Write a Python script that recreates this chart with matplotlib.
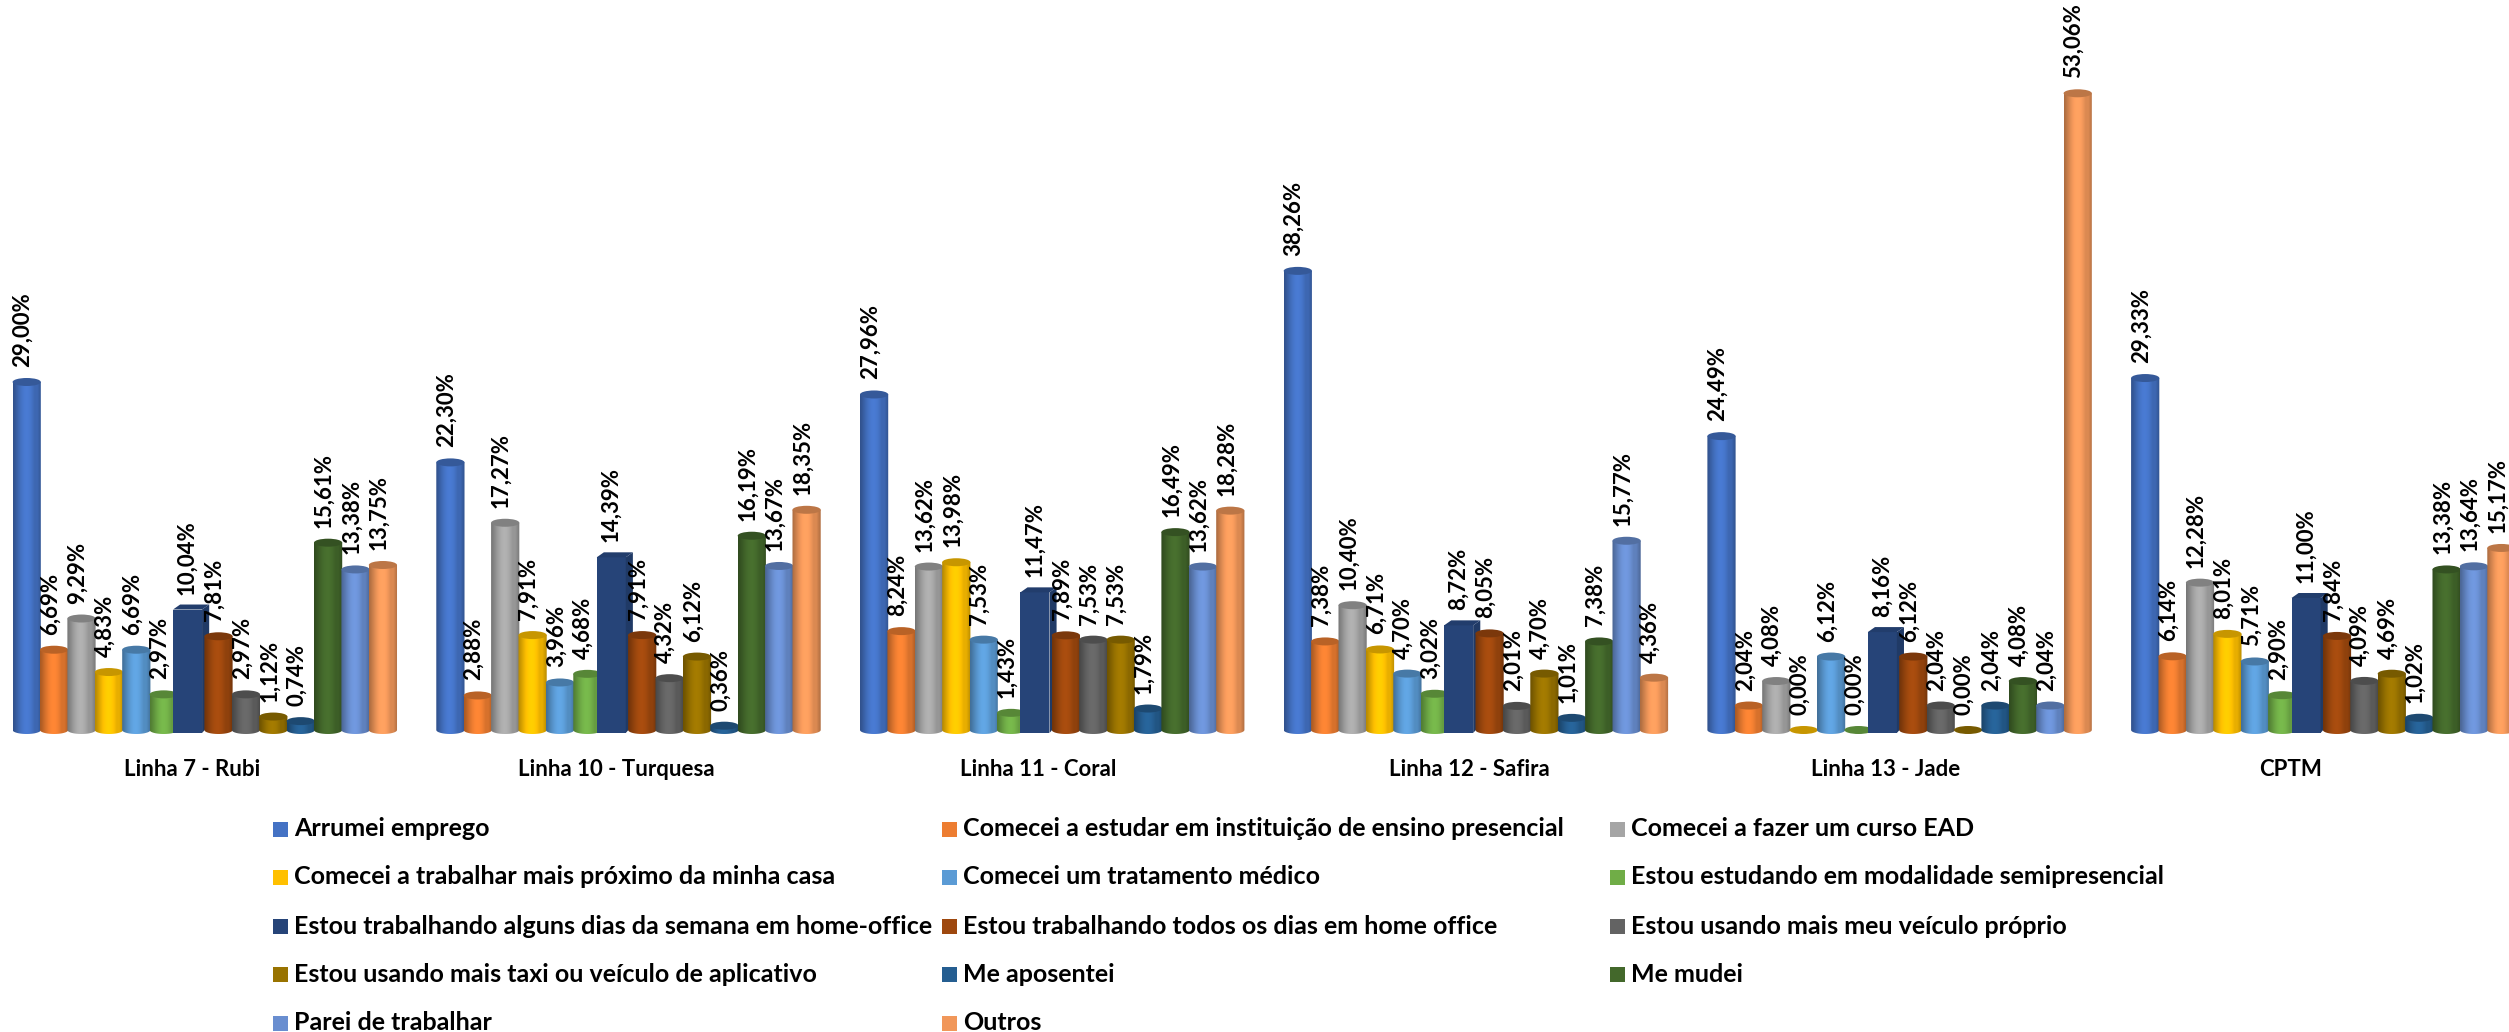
#!/usr/bin/env python3
"""Grouped pseudo-3D column chart: reasons for changing travel habits, per CPTM line."""

import matplotlib
matplotlib.use("Agg")
import matplotlib.pyplot as plt
from matplotlib.colors import to_rgb
from matplotlib.patches import Ellipse, PathPatch, Polygon, Rectangle
from matplotlib.path import Path
import numpy as np

W, H = 2509, 1032

LINES = ["Linha 7 - Rubi", "Linha 10 - Turquesa", "Linha 11 - Coral",
         "Linha 12 - Safira", "Linha 13 - Jade", "CPTM"]

REASONS = [
    "Arrumei emprego",
    "Comecei a estudar em instituição de ensino presencial",
    "Comecei a fazer um curso EAD",
    "Comecei a trabalhar mais próximo da minha casa",
    "Comecei um tratamento médico",
    "Estou estudando em modalidade semipresencial",
    "Estou trabalhando alguns dias da semana em home-office",
    "Estou trabalhando todos os dias em home office",
    "Estou usando mais meu veículo próprio",
    "Estou usando mais taxi ou veículo de aplicativo",
    "Me aposentei",
    "Me mudei",
    "Parei de trabalhar",
    "Outros",
]

COLORS = ["#4472C4", "#ED7D31", "#A5A5A5", "#FFC000", "#5B9BD5", "#70AD47", "#264478",
          "#9E480E", "#636363", "#997300", "#255E91", "#43682B", "#698ED0", "#F1975A"]

LINHA_7 = [29.00, 6.69, 9.29, 4.83, 6.69, 2.97, 10.04, 7.81, 2.97, 1.12, 0.74, 15.61, 13.38, 13.75]
LINHA_10 = [22.30, 2.88, 17.27, 7.91, 3.96, 4.68, 14.39, 7.91, 4.32, 6.12, 0.36, 16.19, 13.67, 18.35]
LINHA_11 = [27.96, 8.24, 13.62, 13.98, 7.53, 1.43, 11.47, 7.89, 7.53, 7.53, 1.79, 16.49, 13.62, 18.28]
LINHA_12 = [38.26, 7.38, 10.40, 6.71, 4.70, 3.02, 8.72, 8.05, 2.01, 4.70, 1.01, 7.38, 15.77, 4.36]
LINHA_13 = [24.49, 2.04, 4.08, 0.00, 6.12, 0.00, 8.16, 6.12, 2.04, 0.00, 2.04, 4.08, 2.04, 53.06]
CPTM = [29.33, 6.14, 12.28, 8.01, 5.71, 2.90, 11.00, 7.84, 4.09, 4.69, 1.02, 13.38, 13.64, 15.17]
VALUES = [LINHA_7, LINHA_10, LINHA_11, LINHA_12, LINHA_13, CPTM]

BOX_SERIES = 6  # this series is drawn as a box, the rest as cylinders

BASELINE_PX = 730
AXES_BOTTOM_PX = 745
PX_PER_UNIT = 12.0
BAR_PITCH_PX = 27.4
GROUP_STEP = 423.7 / BAR_PITCH_PX
FIRST_BAR_PX = 26.7
BAR_WIDTH = 1.03
CAP_H = 8 / PX_PER_UNIT

FONT = ["Lato", "DejaVu Sans"]
LABEL_X_PX = [192, 616, 1038, 1469, 1886, 2291]
LEGEND_COLS_PX = [273, 942, 1610]
LEGEND_ROWS_PX = [829, 877, 926, 974, 1023]


def shaded(color, factors):
    """Return a 1xN RGB strip of a colour scaled by the given factors."""
    rgb = np.array(to_rgb(color))
    return np.clip(rgb[None, :] * factors[:, None], 0, 1)[None, :, :]


def draw_cylinder(ax, x, value, color, z):
    left, right = x - BAR_WIDTH / 2, x + BAR_WIDTH / 2
    if value > 0:
        t = np.linspace(np.pi, 2 * np.pi, 24)
        low_x = x + BAR_WIDTH / 2 * np.cos(t)
        low_y = CAP_H / 2 * np.sin(t)
        outline = np.vstack([np.column_stack([low_x, low_y]), [right, value], [left, value]])
        clip = PathPatch(Path(np.vstack([outline, outline[:1]]), closed=True),
                         transform=ax.transData, fc="none", ec="none")
        ax.add_patch(clip)
        u = np.linspace(0, 1, 40)
        factors = 0.72 + 0.36 * np.sin(np.clip(u / 0.75, 0, 1) * np.pi / 1.25) ** 1.2
        factors = np.where(u > 0.85, factors - (u - 0.85) * 1.2, factors)
        im = ax.imshow(shaded(color, factors), extent=(left, right, -CAP_H / 2, value),
                       aspect="auto", interpolation="bilinear", zorder=z)
        im.set_clip_path(clip)
    ax.add_patch(Ellipse((x, value), BAR_WIDTH, CAP_H, angle=0,
                         fc=tuple(np.array(to_rgb(color)) * 0.78), ec="none", zorder=z + 0.1))


def draw_box(ax, x, value, color, z):
    rgb = np.array(to_rgb(color))
    left, front, back = x - 0.66, x + 0.40, x + 0.66
    rise = 5 / PX_PER_UNIT
    drop = 3 / PX_PER_UNIT
    ax.add_patch(Polygon([(left, -drop), (front, -drop), (front, value), (left, value)],
                         fc=color, ec="none", zorder=z))
    ax.add_patch(Polygon([(front, -drop), (back, rise), (back, value + rise), (front, value)],
                         fc=tuple(rgb * 0.85), ec="none", zorder=z))
    ax.add_patch(Polygon([(left, value), (front, value), (back, value + rise),
                          (left + 0.26, value + rise)],
                         fc=tuple(rgb * 0.9), ec="none", zorder=z))


def main():
    fig = plt.figure(figsize=(W / 100, H / 100), dpi=100, facecolor="white")
    ax = fig.add_axes([0, 1 - AXES_BOTTOM_PX / H, 1, AXES_BOTTOM_PX / H])
    ax.axis("off")

    for g, series in enumerate(VALUES):
        for i, value in enumerate(series):
            x = g * GROUP_STEP + i
            z = 2 + i * 0.2
            if i == BOX_SERIES:
                draw_box(ax, x, value, COLORS[i], z)
            else:
                draw_cylinder(ax, x, value, COLORS[i], z)
            ax.annotate(f"{value:.2f}%".replace(".", ","), (x, value),
                        xytext=(-2.9, 10.8), textcoords="offset points",
                        rotation=90, ha="center", va="bottom", fontsize=16,
                        fontweight="bold", family=FONT, color="black",
                        zorder=10, annotation_clip=False)

    ax.set_xlim(-FIRST_BAR_PX / BAR_PITCH_PX, (W - FIRST_BAR_PX) / BAR_PITCH_PX)
    ax.set_ylim((BASELINE_PX - AXES_BOTTOM_PX) / PX_PER_UNIT, BASELINE_PX / PX_PER_UNIT)

    for name, px in zip(LINES, LABEL_X_PX):
        fig.text(px / W, 1 - 769 / H, name, ha="center", va="center", fontsize=16,
                 fontweight="bold", family=FONT)

    # legend laid out row by row, three columns
    for k, (reason, color) in enumerate(zip(REASONS, COLORS)):
        cx = LEGEND_COLS_PX[k % 3]
        cy = LEGEND_ROWS_PX[k // 3]
        fig.add_artist(Rectangle((cx / W, 1 - (cy + 7.5) / H), 15 / W, 15 / H,
                                 transform=fig.transFigure, fc=color, ec="none"))
        fig.text((cx + 21) / W, 1 - cy / H, reason, ha="left", va="center", fontsize=18,
                 fontweight="bold", family=FONT)

    fig.savefig("out.png", dpi=100, facecolor="white")
    plt.close(fig)


if __name__ == "__main__":
    main()
